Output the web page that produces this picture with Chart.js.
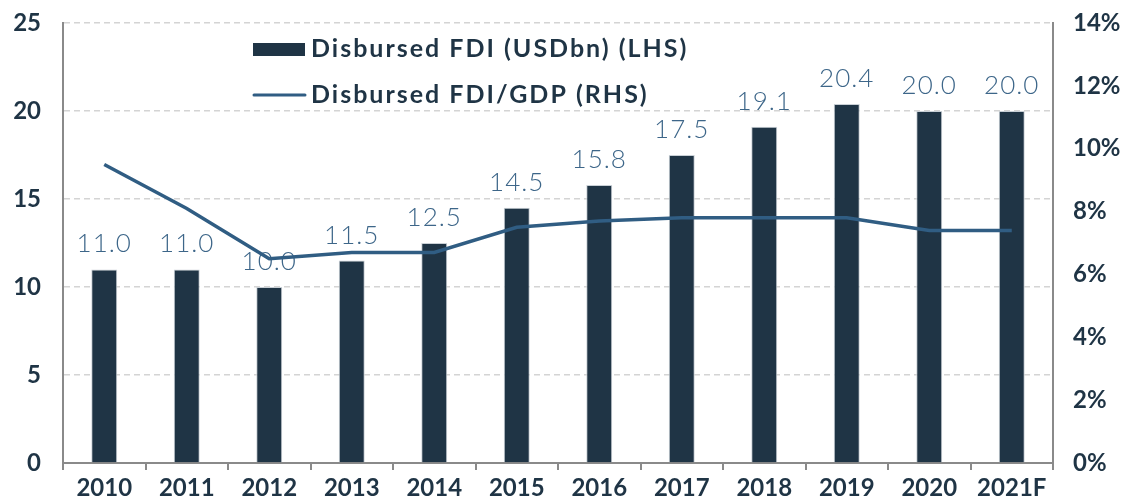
<!DOCTYPE html>
<html>
<head>
<meta charset="utf-8">
<script src="https://cdn.jsdelivr.net/npm/chart.js@4"></script>
<style>
  html, body { margin: 0; padding: 0; background: #fff; }
  #wrap { width: 1129px; height: 502px; }
</style>
</head>
<body>
<div id="wrap"><canvas id="chart" width="1129" height="502"></canvas></div>
<script>
// data
const years = ['2010', '2011', '2012', '2013', '2014', '2015', '2016', '2017', '2018', '2019', '2020', '2021F'];
const fdiUsdBn = [11.0, 11.0, 10.0, 11.5, 12.5, 14.5, 15.8, 17.5, 19.1, 20.4, 20.0, 20.0];
const fdiToGdp = [9.5, 8.1, 6.5, 6.7, 6.7, 7.5, 7.7, 7.8, 7.8, 7.8, 7.4, 7.4];
const leftTicks = [0, 5, 10, 15, 20, 25];
const rightTicks = [0, 2, 4, 6, 8, 10, 12, 14];

const BAR = '#1f3445';
const LINE = '#305d83';
const TXT = '#1f3445';
const FONT = 'Lato, "Open Sans", sans-serif';

// value labels above bars
const barLabels = {
    id: 'barLabels',
    afterDatasetDraw(chart, args) {
        if (args.index !== 0) return;
        const ctx = chart.ctx;
        const meta = chart.getDatasetMeta(0);
        ctx.save();
        ctx.font = '300 26px ' + FONT;
        ctx.letterSpacing = '1px';
        ctx.fillStyle = '#3d6689';
        ctx.textAlign = 'center';
        ctx.textBaseline = 'alphabetic';
        meta.data.forEach((bar, i) => {
            ctx.fillText(fdiUsdBn[i].toFixed(1), bar.x, bar.y - 17);
        });
        ctx.restore();
    }
};

// legend drawn inside the plot
const insideLegend = {
    id: 'insideLegend',
    afterDraw(chart) {
        const ctx = chart.ctx;
        ctx.save();
        ctx.fillStyle = BAR;
        ctx.fillRect(253, 43, 52, 13);
        ctx.strokeStyle = LINE;
        ctx.lineWidth = 3;
        ctx.lineCap = 'round';
        ctx.beginPath();
        ctx.moveTo(254, 95);
        ctx.lineTo(305, 95);
        ctx.stroke();
        ctx.font = 'bold 25px ' + FONT;
        ctx.letterSpacing = '2px';
        ctx.fillStyle = TXT;
        ctx.textBaseline = 'middle';
        ctx.fillText(chart.data.datasets[0].label, 311, 49);
        ctx.fillText(chart.data.datasets[1].label, 311, 95);
        ctx.restore();
    }
};

function fixY(s, w) {
    s.width = w;
    s.paddingTop = 0;
    s.paddingBottom = 0;
}

new Chart(document.getElementById('chart'), {
    type: 'bar',
    data: {
        labels: years,
        datasets: [{
            type: 'bar',
            label: 'Disbursed FDI (USDbn) (LHS)',
            data: fdiUsdBn,
            backgroundColor: BAR,
            borderColor: '#c9d0d6',
            borderWidth: 1,
            barPercentage: 0.63,
            categoryPercentage: 0.5,
            yAxisID: 'y',
            order: 2
        }, {
            type: 'line',
            label: 'Disbursed FDI/GDP (RHS)',
            data: fdiToGdp,
            borderColor: LINE,
            borderWidth: 3.5,
            pointRadius: 0,
            tension: 0,
            yAxisID: 'y1',
            order: 1
        }]
    },
    options: {
        responsive: false,
        animation: false,
        layout: { padding: { top: 23, left: 0, right: 0, bottom: 0 } },
        plugins: {
            legend: { display: false },
            tooltip: { enabled: false }
        },
        scales: {
            x: {
                offset: true,
                grid: { display: true, drawOnChartArea: false, offset: true, color: '#8a8a8a', tickLength: 7, lineWidth: 2 },
                border: { color: '#8a8a8a', width: 2 },
                ticks: { color: TXT, font: { family: FONT, size: 24, weight: 'bold' }, padding: 4, maxRotation: 0, autoSkip: false },
                afterFit(s) { s.height = 39; s.paddingLeft = 0; s.paddingRight = 0; }
            },
            y: {
                position: 'left',
                min: 0, max: 25,
                afterBuildTicks(s) { s.ticks = leftTicks.map(v => ({ value: v })); },
                grid: { color: '#d4d4d4', lineWidth: 1.5, drawTicks: false },
                border: { color: '#8a8a8a', width: 2, dash: [6, 4], dashOffset: 0 },
                ticks: { color: TXT, font: { family: FONT, size: 24, weight: 'bold' }, padding: 22 },
                afterFit(s) { fixY(s, 63); }
            },
            y1: {
                position: 'right',
                min: 0, max: 14,
                afterBuildTicks(s) { s.ticks = rightTicks.map(v => ({ value: v })); },
                grid: { drawOnChartArea: false, drawTicks: false },
                border: { color: '#8a8a8a', width: 2 },
                ticks: { color: TXT, font: { family: FONT, size: 24, weight: 'bold' }, padding: 20, callback: v => v + '%' },
                afterFit(s) { fixY(s, 76); }
            }
        }
    },
    plugins: [barLabels, insideLegend]
});
</script>
</body>
</html>
